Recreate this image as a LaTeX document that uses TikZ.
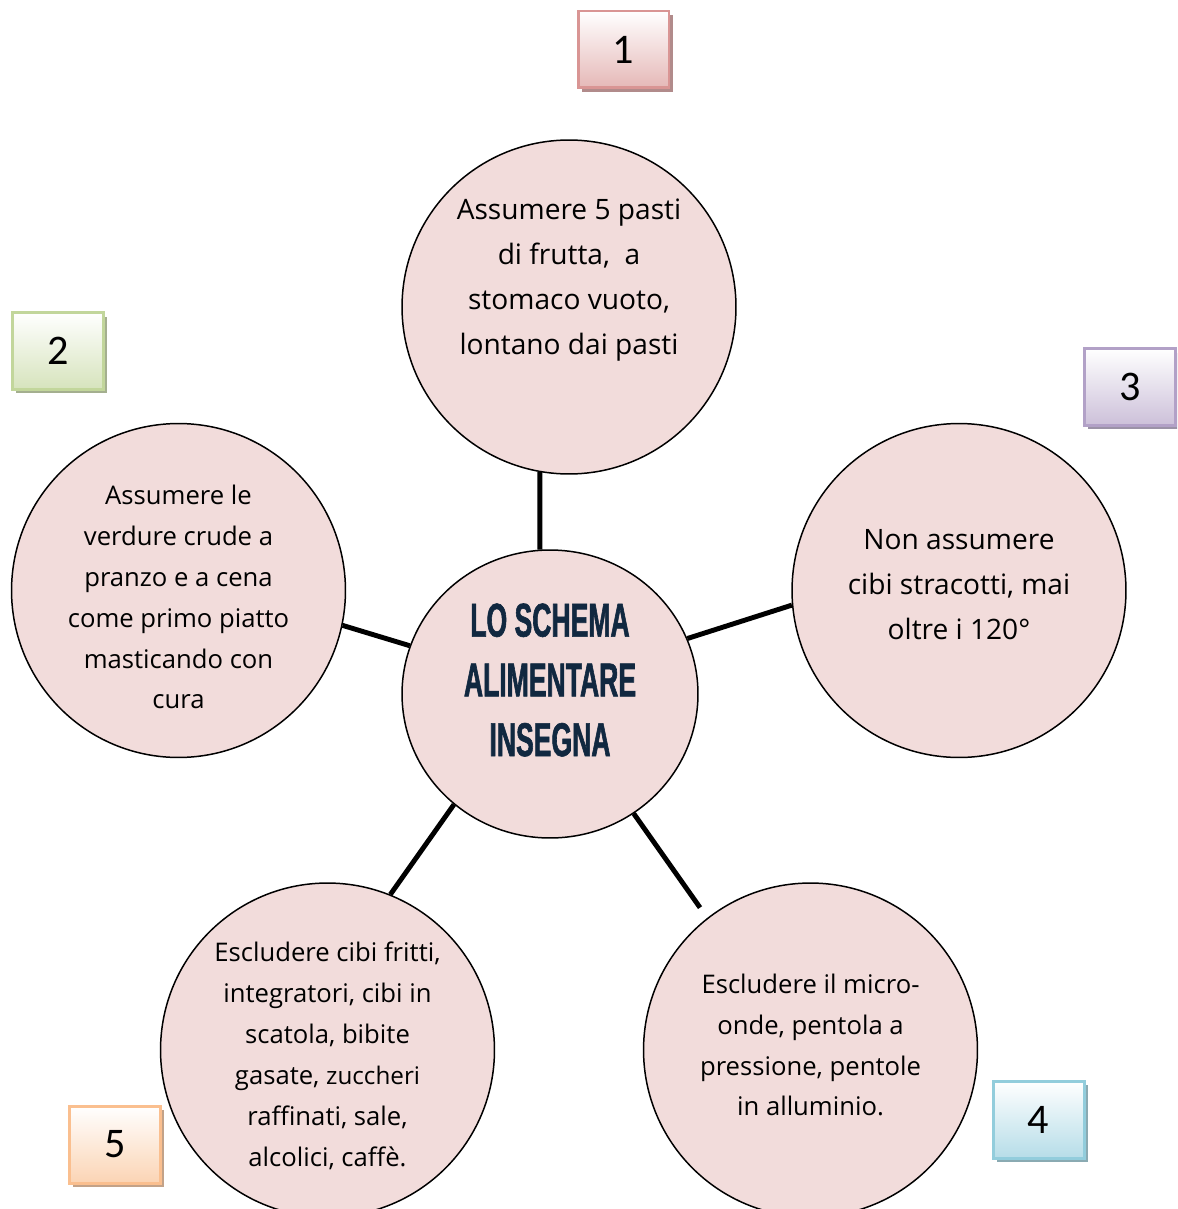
\documentclass[tikz,border=0pt]{standalone}
\usepackage{fontspec}
\setmainfont{Open Sans}
\newfontfamily\cifrefont{Carlito}
\newfontfamily\titolofont[FakeStretch=0.56, FakeBold=1.2]{Liberation Sans}
\usetikzlibrary{shapes.geometric}
\usetikzlibrary{shadows}

\definecolor{rosa}{HTML}{F2DCDB}
\definecolor{blunotte}{HTML}{112840}
\definecolor{bordo1}{HTML}{D99594}\definecolor{fondo1}{HTML}{E5B8B7}
\definecolor{bordo2}{HTML}{C2D69B}\definecolor{fondo2}{HTML}{D6E3BC}
\definecolor{bordo3}{HTML}{B2A1C7}\definecolor{fondo3}{HTML}{CCC0D9}
\definecolor{bordo4}{HTML}{92CDDC}\definecolor{fondo4}{HTML}{B6DDE8}
\definecolor{bordo5}{HTML}{FABF8F}\definecolor{fondo5}{HTML}{FBD4B4}

\tikzset{
  cerchio/.style={circle, draw=black, line width=0.85pt, fill=rosa,
    minimum size=6.68cm, inner sep=0pt},
  testo/.style={align=center, font=\fontsize{14.6}{23.3}\selectfont},
  testogrande/.style={align=center, font=\fontsize{16}{25.6}\selectfont},
  numero/.style={rectangle, draw=bordo#1, line width=1.7pt,
    top color=white, bottom color=fondo#1,
    general shadow={fill=bordo#1!55!gray, shadow xshift=0.07cm, shadow yshift=-0.08cm},
    minimum width=1.82cm, minimum height=1.54cm,
    font=\cifrefont\fontsize{24}{24}\selectfont},
  raggio/.style={line width=2.8pt}
}

\begin{document}
\begin{tikzpicture}[x=0.02cm, y=-0.02cm]
\useasboundingbox (0,0) rectangle (1177,1209);
\clip (0,0) rectangle (1177,1209);

% cerchi
\node[ellipse, draw=black, line width=0.85pt, fill=rosa, inner sep=0pt,
  minimum width=5.92cm, minimum height=5.76cm] (centro) at (550,694) {};
\node[cerchio] (frutta) at (569,307) {};
\node[cerchio] (verdure) at (178.5,590.5) {};
\node[cerchio] (stracotti) at (959,590.5) {};
\node[cerchio] (fritti) at (327.5,1050) {};
\node[cerchio] (micro) at (810.5,1050) {};

% raggi
\draw[raggio] (frutta.260) -- (centro.94);
\draw[raggio] (verdure.-12) -- (centro.161);
\draw[raggio] (centro.22) -- (stracotti.185);
\draw[raggio] (centro.229) -- (fritti.68);
\draw[raggio, shorten >=0.25cm] (centro.-55) -- (micro.128);

% testi
\node[align=center, text=blunotte, font=\titolofont\bfseries\fontsize{27}{34}\selectfont]
  (titolo) at (550,680) {LO SCHEMA\\ALIMENTARE\\INSEGNA};
\node[testogrande] (tfrutta) at (569,280)
  {Assumere 5 pasti\\di frutta,~ a\\stomaco vuoto,\\lontano dai pasti};
\node[testo] (tverdure) at (178.5,597)
  {Assumere le\\verdure crude a\\pranzo e a cena\\come primo piatto\\masticando con\\cura};
\node[testogrande] (tstracotti) at (959,585)
  {Non assumere\\cibi stracotti, mai\\oltre i 120°};
\node[testo] (tfritti) at (327.5,1056)
  {Escludere cibi fritti,\\integratori, cibi in\\scatola, bibite\\gasate, {\fontsize{13.8}{23.3}\selectfont zuccheri}\\raffinati, sale,\\alcolici, caffè.};
\node[testo] (tmicro) at (810.5,1045)
  {Escludere il micro-\\onde, pentola a\\pressione, pentole\\in alluminio.};

% numeri
\node[numero=1] (n1) at (623.5,49.5) {1};
\node[numero=2] (n2) at (58,351) {2};
\node[numero=3] (n3) at (1130,387) {3};
\node[numero=4] (n4) at (1038.5,1119.5) {4};
\node[numero=5] (n5) at (115,1144.5) {5};
\end{tikzpicture}
\end{document}
